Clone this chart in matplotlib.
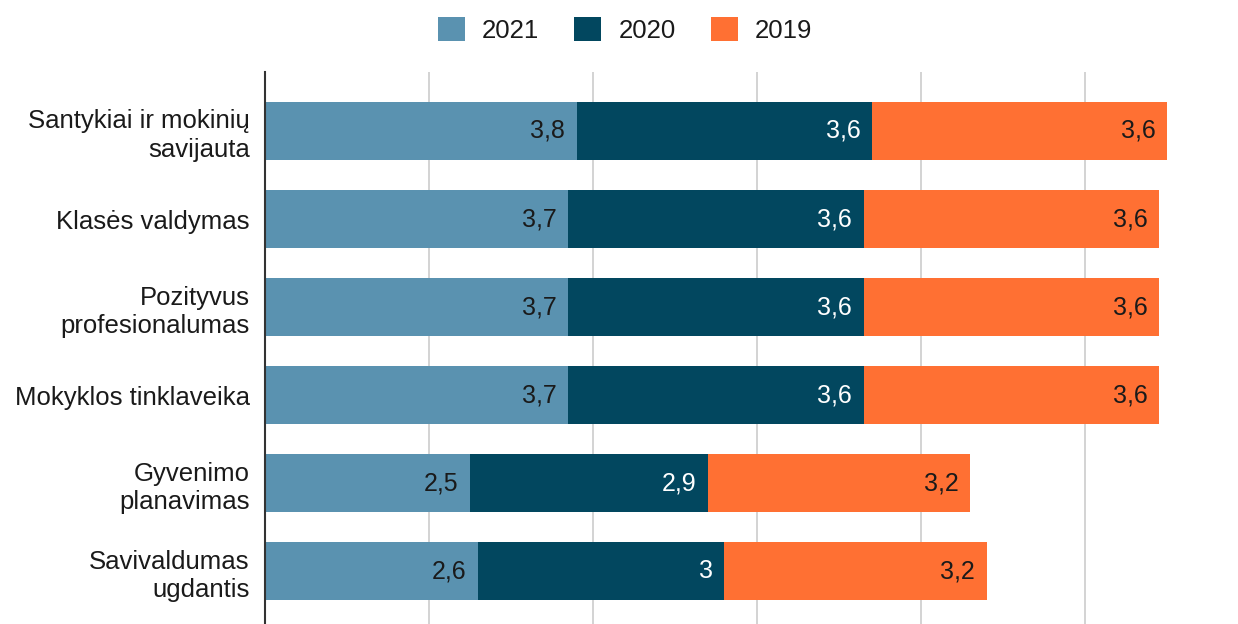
import matplotlib
matplotlib.use('Agg')
import matplotlib.pyplot as plt
import numpy as np

plt.rcParams['font.family'] = ['Liberation Sans', 'DejaVu Sans']

categories = [
    "Santykiai ir mokinių\nsavijauta",
    "Klasės valdymas",
    "Pozityvus\nprofesionalumas",
    "Mokyklos tinklaveika",
    "Gyvenimo\nplanavimas",
    "Savivaldumas\nugdantis",
]
years = ["2021", "2020", "2019"]
v2021 = [3.8, 3.7, 3.7, 3.7, 2.5, 2.6]
v2020 = [3.6, 3.6, 3.6, 3.6, 2.9, 3.0]
v2019 = [3.6, 3.6, 3.6, 3.6, 3.2, 3.2]

colors = ["#5a92b0", "#02475f", "#ff7033"]
text_colors = ["#1a1a1a", "#ffffff", "#1a1a1a"]


def fmt(v):
    s = f"{v:.1f}".rstrip("0").rstrip(".")
    return s.replace(".", ",")


fig = plt.figure(figsize=(12.38, 6.24), dpi=100)
ax = fig.add_axes([265 / 1238, 0, 1 - 265 / 1238, 1 - 72 / 624])

y = np.arange(len(categories))
left = np.zeros(len(categories))
for vals, year, c, tc in zip([v2021, v2020, v2019], years, colors, text_colors):
    vals = np.array(vals)
    ax.barh(y, vals, left=left, height=0.66, color=c, label=year, zorder=3)
    for yi, l, v in zip(y, left, vals):
        ax.text(l + v - 0.14, yi, fmt(v), ha="right", va="center",
                color=tc, fontsize=18, zorder=4)
    left = left + vals

ax.set_xlim(0, (1238 - 265) / 82)
ax.set_ylim(5.6, -0.67)
ax.set_xticks([2, 4, 6, 8, 10])
ax.xaxis.grid(True, color="#cccccc", linewidth=1.2, zorder=0)
ax.tick_params(axis="x", length=0, labelbottom=False)
ax.tick_params(axis="y", length=0, pad=11, labelsize=18.5, labelcolor="#1a1a1a")
ax.set_yticks(y)
ax.set_yticklabels(categories, linespacing=1.25)
for s in ["top", "right", "bottom"]:
    ax.spines[s].set_visible(False)
ax.spines["left"].set_color("#333333")
ax.spines["left"].set_linewidth(1.5)
ax.spines["left"].set_zorder(5)

fig.legend(loc="upper center", bbox_to_anchor=(0.505, 1.01), ncol=3, frameon=False,
           fontsize=18.5, handlelength=1.05, handleheight=1.05, columnspacing=1.37,
           handletextpad=0.67, labelcolor="#1a1a1a")

fig.savefig("out.png", dpi=100)
